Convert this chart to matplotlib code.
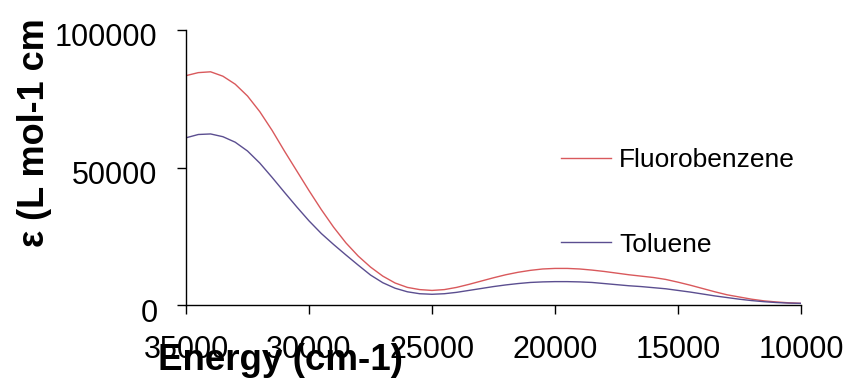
import matplotlib
matplotlib.use('Agg')
import matplotlib.pyplot as plt
import matplotlib.transforms as mtransforms

plt.rcParams['font.family'] = ['Liberation Sans', 'DejaVu Sans']

# absorption spectra, energy in cm-1 (high to low)
energy = [35000, 34500, 34000, 33500, 33000, 32500, 32000, 31500, 31000, 30500,
          30000, 29500, 29000, 28500, 28000, 27500, 27000, 26500, 26000, 25500,
          25000, 24500, 24000, 23500, 23000, 22500, 22000, 21500, 21000, 20500,
          20000, 19500, 19000, 18500, 18000, 17500, 17000, 16500, 16000, 15500,
          15000, 14500, 14000, 13500, 13000, 12500, 12000, 11500, 11000, 10500,
          10000]
fluorobenzene = [83400, 84500, 84800, 83200, 80300, 76000, 70300, 63500, 56000, 48800,
                 41600, 34700, 28300, 22600, 17800, 13800, 10500, 8000, 6400, 5600,
                 5300, 5600, 6400, 7500, 8700, 9900, 11000, 11900, 12600, 13100,
                 13300, 13300, 13100, 12700, 12200, 11600, 11000, 10500, 10000, 9300,
                 8300, 7200, 6000, 4800, 3700, 2900, 2100, 1500, 1100, 800,
                 600]
toluene = [60800, 62000, 62200, 61200, 59200, 56000, 51600, 46400, 41000, 35700,
           30600, 26000, 22000, 18200, 14500, 10900, 8100, 6100, 4800, 4100,
           3900, 4100, 4600, 5300, 6000, 6700, 7300, 7800, 8200, 8400,
           8500, 8500, 8400, 8200, 7800, 7400, 7000, 6700, 6300, 5900,
           5300, 4700, 4000, 3300, 2700, 2100, 1600, 1200, 900, 700,
           600]

x_ticks = [35000, 30000, 25000, 20000, 15000, 10000]
y_ticks = [0, 50000, 100000]

fig = plt.figure(figsize=(8.49, 3.81), dpi=100)
ax = fig.add_axes([186/849, 76/381, 615/849, 275/381])

ax.plot(energy, fluorobenzene, color='#d9595c', lw=1.0, label='Fluorobenzene')
ax.plot(energy, toluene, color='#5b4e90', lw=1.0, label='Toluene')

ax.set_xlim(35000, 10000)
ax.set_ylim(0, 100000)
ax.set_xticks(x_ticks)
ax.set_yticks(y_ticks)
ax.set_xticklabels([str(v) for v in x_ticks])
ax.set_yticklabels([str(v) for v in y_ticks])

for side in ['top', 'right']:
    ax.spines[side].set_visible(False)
for side in ['left', 'bottom']:
    ax.spines[side].set_linewidth(1.0)
    ax.spines[side].set_color('black')

ax.tick_params(axis='both', direction='out', length=6.5, width=1.0, labelsize=22)
ax.tick_params(axis='y', pad=14)
ax.tick_params(axis='x', pad=15)

# nudge y labels a little below their ticks
shift = mtransforms.ScaledTranslation(0, -5/100, fig.dpi_scale_trans)
for lab in ax.get_yticklabels():
    lab.set_transform(lab.get_transform() + shift)

ax.legend(loc='upper left', bbox_to_anchor=(561/849, (381-148)/381),
          bbox_transform=fig.transFigure, frameon=False, fontsize=19,
          handlelength=1.9, handletextpad=0.3, labelspacing=2.3,
          borderpad=0, borderaxespad=0)

fig.text(158/849, 11/381, 'Energy (cm-1)', fontsize=26.5, fontweight='bold',
         ha='left', va='baseline')
fig.text(35/849, (381-247)/381, 'ε (L mol-1 cm', fontsize=26, fontweight='bold',
         rotation=90, ha='center', va='bottom')

fig.savefig('out.png', dpi=100)
